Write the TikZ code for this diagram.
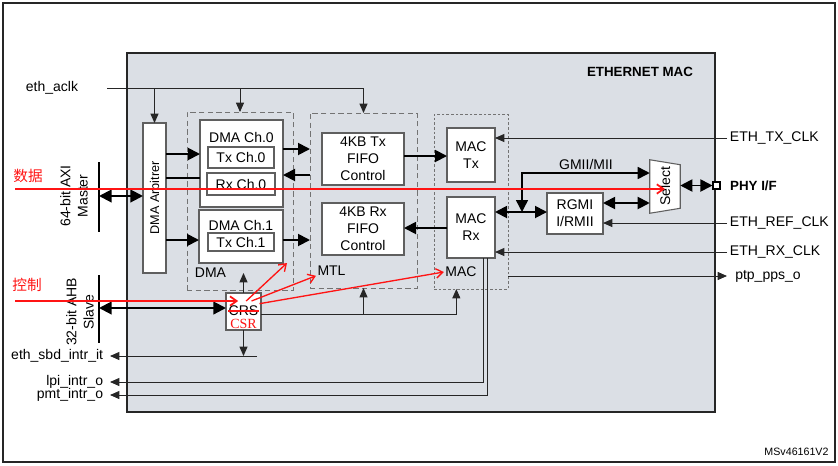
\documentclass[tikz,border=0pt]{standalone}
\usepackage{fontspec}
\setmainfont{Liberation Sans}
\newfontfamily\cjkfont{Noto Sans CJK SC}
\newfontfamily\csrfont{Liberation Serif}
\usetikzlibrary{arrows.meta, positioning, calc}
\definecolor{macGray}{RGB}{219,223,229}
\definecolor{boxLine}{RGB}{95,95,95}
\definecolor{noteRed}{RGB}{255,20,20}
\tikzset{sz/.style 2 args={minimum width=#1*0.75pt, minimum height=#2*0.75pt}}

\begin{document}
\begin{tikzpicture}[
      x=0.75pt, y=-0.75pt,
      font=\fontsize{10.5}{12.75}\selectfont,
      block/.style={draw=boxLine, line width=0.8pt, fill=white, inner sep=0pt, outer sep=0pt, align=center},
      group/.style={draw=black!55, line width=0.7pt, dash pattern=on 4pt off 2.5pt, inner sep=0pt, outer sep=0pt},
      tag/.style={inner sep=1pt},
      sig/.style={draw=black!85, line width=0.7pt, -{Triangle[length=7pt,width=6pt]}},
      dat/.style={line width=1.4pt, -{Triangle[length=9pt,width=9pt]}},
      bus/.style={line width=1.6pt, {Triangle[length=9.5pt,width=9.5pt]}-{Triangle[length=9.5pt,width=9.5pt]}},
      link/.style={line width=1.4pt, {Triangle[length=9pt,width=9pt]}-{Triangle[length=9pt,width=9pt]}},
      busbar/.style={line width=2pt},
      note/.style={draw=noteRed, line width=1pt, -{Straight Barb[length=5pt,width=7pt]}},
      notetxt/.style={text=noteRed, font=\cjkfont\fontsize{11}{13}\selectfont}
    ]
      \useasboundingbox (0,0) rectangle (838,465);
      \draw[line width=0.8pt, black!85] (3,3) rectangle (835,462);
      \node[draw=black!85, line width=1.3pt, fill=macGray, inner sep=0pt, sz={588}{359}] (ethmac) at (421,232.5) {};
      \node[font=\bfseries] (title) at (640,72) {ETHERNET MAC};

      % DMA
      \node[block, sz={23}{150}] (arb) at (154.5,198) {};
      \node[rotate=90, font=\fontsize{9.5}{11}\selectfont] (arbtxt) at (arb) {DMA Arbitrer};
      \node[group, sz={106}{178}] (dmagrp) at (240,201) {};
      \node[tag] (dmalbl) at (210.5,273) {DMA};
      \node[block, sz={83}{87}] (ch0) at (241.5,163.5) {};
      \node[tag] (ch0lbl) at (241.5,137) {DMA Ch.0};
      \node[block, sz={66}{21}] (txch0) at (241,157.5) {Tx Ch.0};
      \node[block, sz={68}{22}] (rxch0) at (241,184) {Rx Ch.0};
      \node[block, sz={84}{53}] (ch1) at (241,236.5) {};
      \node[tag] (ch1lbl) at (241,225) {DMA Ch.1};
      \node[block, sz={66}{18}] (txch1) at (241,242) {Tx Ch.1};

      % MTL
      \node[group, sz={107}{175}] (mtlgrp) at (363.5,200.5) {};
      \node[tag] (mtllbl) at (331.5,271) {MTL};
      \node[block, sz={82}{52}] (txfifo) at (363,159) {4KB Tx\\FIFO\\Control};
      \node[block, sz={82}{52}] (rxfifo) at (363,229) {4KB Rx\\FIFO\\Control};

      % MAC
      \node[group, dash pattern=on 2pt off 1.5pt, sz={74}{175}] (macgrp) at (471,201.5) {};
      \node[tag] (maclbl) at (461,272) {MAC};
      \node[block, sz={48}{54}] (mactx) at (471,155) {MAC\\Tx};
      \node[block, sz={48}{61}] (macrx) at (471,227.5) {MAC\\Rx};
      \node[block, sz={56}{41}] (rgmii) at (575,213.5) {RGMI\\I/RMII};
      \node[tag] (gmii) at (586,164) {GMII/MII};
      \node[inner sep=0pt, sz={30}{53}] (sel) at (665,186.5) {};
      \draw[draw=boxLine, line width=0.8pt, fill=white] (sel.north west) -- ([yshift=-3.75pt]sel.north east)
        -- ([yshift=3.75pt]sel.south east) -- (sel.south west) -- cycle;
      \node[rotate=90] (seltxt) at (sel) {Select};
      \node[draw=black, line width=0.8pt, fill=white, inner sep=0pt, sz={7}{7}] (phy) at (716.5,185.5) {};
      \node[right=6pt of phy, tag, font=\bfseries] (phylbl) {PHY I/F};

      % CSR
      \node[block, sz={35}{37}] (crs) at (243.5,311.5) {};
      \node[inner sep=0pt] (crstxt) at (243.5,311) {CRS};
      \node[inner sep=0pt, text=noteRed, font=\csrfont\fontsize{10.5}{12}\selectfont] (csrtxt) at (243.5,323.5) {CSR};

      % outside signals
      \node (aclklbl) at (52,88) {eth\_aclk};
      \coordinate (aclk) at (107,88);
      \node[rotate=90, align=center, font=\fontsize{10.5}{13}\selectfont] (axilbl) at (74,196) {64-bit AXI\\Master};
      \node[rotate=90, align=center, font=\fontsize{10.5}{13}\selectfont] (ahblbl) at (80,312) {32-bit AHB\\Slave};
      \coordinate (axi) at (99,196);
      \coordinate (ahb) at (99,308);
      \node[anchor=west, inner sep=2pt] (txclk) at (727,138) {ETH\_TX\_CLK};
      \node[anchor=west, inner sep=2pt] (refclk) at (727,223) {ETH\_REF\_CLK};
      \node[anchor=west, inner sep=2pt] (rxclk) at (727,252) {ETH\_RX\_CLK};
      \node[anchor=west, inner sep=6pt] (ptp) at (727,276) {ptp\_pps\_o};
      \node[anchor=east, inner sep=5pt] (sbd) at (110,356) {eth\_sbd\_intr\_it};
      \node[anchor=east, inner sep=5pt] (lpi) at (110,382) {lpi\_intr\_o};
      \node[anchor=east, inner sep=5pt] (pmt) at (110,395) {pmt\_intr\_o};
      \coordinate (sbdend) at (257,356);
      \coordinate (jn) at (522,212);
      \node[font=\fontsize{8}{9}\selectfont] (docid) at (796.5,452) {MSv46161V2};

      \draw[sig] (aclk) -| (mtlgrp.north);
      \draw[sig] (arb.north |- aclk) -- (arb.north);
      \draw[sig] (dmagrp.north |- aclk) -- (dmagrp.north);

      \draw[busbar] (99,162) -- (99,232);
      \draw[busbar] (99,275) -- (99,343);
      \draw[bus] (axi) -- (arb.west |- axi);
      \draw[bus] (ahb) -- (crs.west |- ahb);

      \draw[dat] (arb.east |- 0,154) -- (ch0.west |- 0,154);
      \draw[line width=1.4pt] (arb.east |- 0,178) -- (ch0.west |- 0,178);
      \draw[dat] (arb.east |- 0,240) -- (ch1.west |- 0,240);
      \draw[dat] (ch0.east |- 0,149) -- (mtlgrp.west |- 0,149);
      \draw[dat] (mtlgrp.west |- 0,175) -- (ch0.east |- 0,175);
      \draw[dat] (ch1.east |- 0,240) -- (mtlgrp.west |- 0,240);
      \draw[dat] (txfifo.east |- 0,156) -- (mactx.west |- 0,156);
      \draw[dat] (macrx.west |- 0,228) -- (rxfifo.east |- 0,228);

      \draw[link] (macrx.east |- jn) -- (rgmii.west |- jn);
      \draw[link, line width=1.1pt] (jn) |- (sel.west |- 0,173);
      \draw[link] (rgmii.east |- 0,203) -- (sel.west |- 0,203);
      \draw[link] (sel.east |- phy) -- (phy.west);

      \draw[sig] (txclk.west) -- (mactx.east |- txclk.west);
      \draw[sig] (refclk.west) -- (rgmii.east |- refclk.west);
      \draw[sig] (rxclk.west) -- (macrx.east |- rxclk.west);
      \draw[sig] (macgrp.east |- ptp.west) -- (ptp.west);

      \draw[sig] (crs.north) -- (crs.north |- dmalbl);
      \draw[sig] (crs.south) -- (crs.south |- sbd.east);
      \draw[sig] (sbdend) -- (sbd.east);
      \draw[sig] (crs.east |- 0,314) -| ([xshift=-11pt]macgrp.south);
      \draw[sig] (mtlgrp.south |- 0,314) -- (mtlgrp.south);
      \draw[sig] ([xshift=9pt]macrx.south) |- (lpi.east);
      \draw[sig] ([xshift=12pt]macrx.south) |- (pmt.east);

      % notes
      \node[notetxt] (datalbl) at (28,176) {数据};
      \node[notetxt] (ctrllbl) at (27,285) {控制};
      \coordinate (datastart) at (15,189);
      \coordinate (ctrlstart) at (15,301);
      \draw[note, line width=1.3pt] (datastart) -- (sel |- datastart);
      \draw[note, line width=1.3pt] (ctrlstart) -- ([xshift=-4pt,yshift=-6pt]crs.north);
      \draw[noteRed, line width=1pt] (crstxt.west) -- (crstxt.east);
      \draw[note] ([xshift=2pt,yshift=-6pt]crs.north) -- ([xshift=3pt]ch1.south east);
      \draw[note] ([xshift=6pt,yshift=-6pt]crs.north) -- (mtllbl.base west);
      \draw[note] ([xshift=12pt,yshift=-8pt]crs.north) -- (maclbl.west);
    \end{tikzpicture}
\end{document}
